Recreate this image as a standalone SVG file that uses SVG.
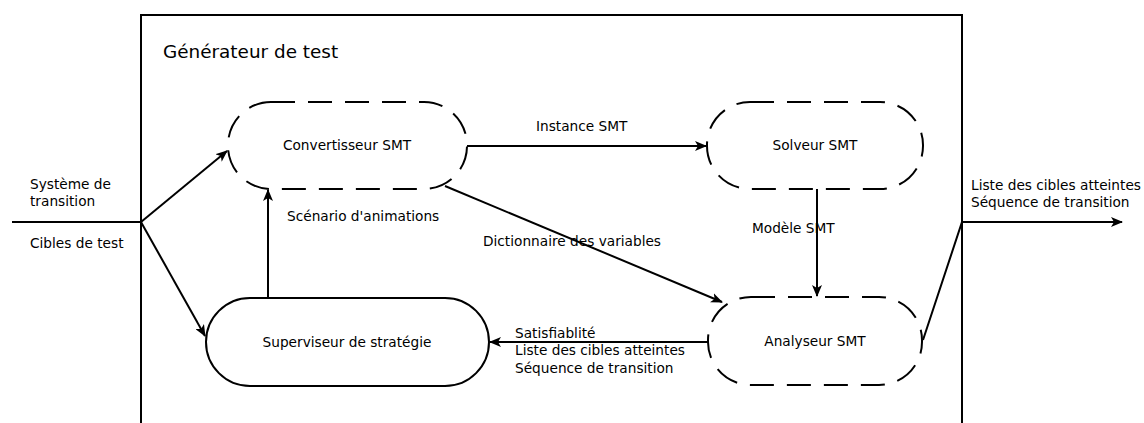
<svg xmlns="http://www.w3.org/2000/svg" width="1144" height="423" viewBox="0 0 1144 423">
<style>
text{font-family:"DejaVu Sans",sans-serif;font-size:13.7px;fill:#000}
.n{fill:#fff;stroke:#000;stroke-width:2}
.d{stroke-dasharray:24,13}
.c{fill:none;stroke:#000;stroke-width:2}
.t{text-anchor:middle}
</style>
<defs>
<marker id="a" viewBox="0 0 12 10" refX="11" refY="5" markerWidth="12" markerHeight="10" markerUnits="userSpaceOnUse" orient="auto">
<path d="M0,0 L12,5 L0,10 L3,5 Z" fill="#000"/>
</marker>
</defs>
<rect width="1144" height="423" fill="#fff"/>
<g id="generateur">
<path d="M141,423 V15 H962 V423" fill="none" stroke="#000" stroke-width="2"/>
<text x="163" y="58" style="font-size:18.4px">Générateur de test</text>
</g>
<g id="connectors">
<path class="c" d="M12,222 H141"/>
<path class="c" d="M141,222 L227,151" marker-end="url(#a)"/>
<path class="c" d="M141,222 L205,336" marker-end="url(#a)"/>
<path class="c" d="M268,298 V190" marker-end="url(#a)"/>
<path class="c" d="M467,146 H706" marker-end="url(#a)"/>
<path class="c" d="M445,186 L722,302" marker-end="url(#a)"/>
<path class="c" d="M817,189 V296" marker-end="url(#a)"/>
<path class="c" d="M708,342 H490" marker-end="url(#a)"/>
<path class="c" d="M923,340 L962,222 H1122" marker-end="url(#a)"/>
<text x="30" y="189">Système de</text>
<text x="30" y="206">transition</text>
<text x="30" y="248">Cibles de test</text>
<text x="536" y="131">Instance SMT</text>
<text x="287" y="221">Scénario d'animations</text>
<text x="483" y="246">Dictionnaire des variables</text>
<text x="752" y="233">Modèle SMT</text>
<text x="515" y="338">Satisfiablité</text>
<text x="515" y="355">Liste des cibles atteintes</text>
<text x="515" y="373">Séquence de transition</text>
<text x="971" y="190">Liste des cibles atteintes</text>
<text x="971" y="207">Séquence de transition</text>
</g>
<g id="convertisseur">
<rect class="n d" x="228" y="102" width="239" height="87" rx="43" ry="43"/>
<text class="t" x="347" y="150">Convertisseur SMT</text>
</g>
<g id="solveur">
<rect class="n d" x="707" y="102" width="216" height="87" rx="43" ry="43"/>
<text class="t" x="815" y="150">Solveur SMT</text>
</g>
<g id="analyseur">
<rect class="n d" x="708" y="297" width="214" height="88" rx="43" ry="43"/>
<text class="t" x="815" y="346">Analyseur SMT</text>
</g>
<g id="superviseur">
<rect class="n" x="206" y="298" width="283" height="88" rx="44" ry="44"/>
<text class="t" x="347" y="347">Superviseur de stratégie</text>
</g>
</svg>
